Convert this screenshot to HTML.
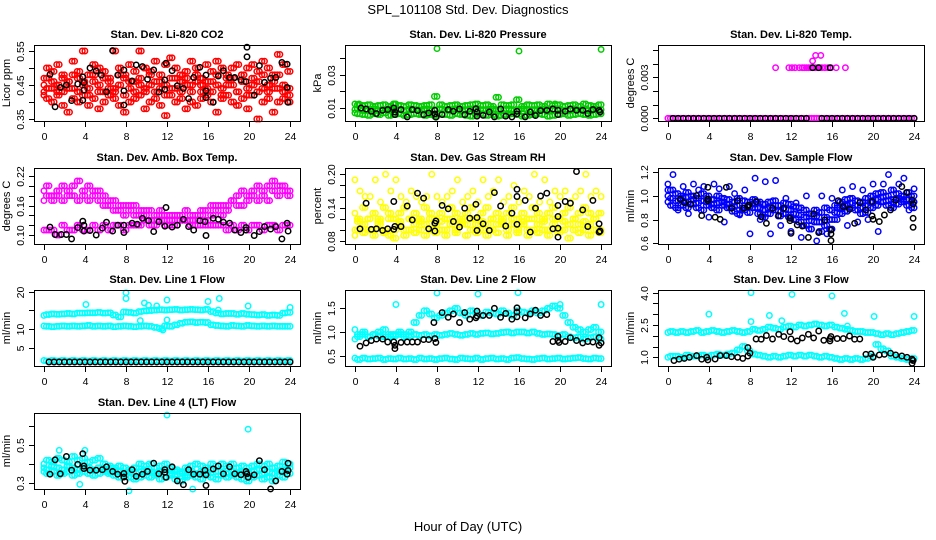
<!DOCTYPE html>
<html><head><meta charset="utf-8"><title>SPL_101108 Std. Dev. Diagnostics</title>
<style>
html,body{margin:0;padding:0;background:#fff;}
svg{display:block;font-family:"Liberation Sans",Arial,sans-serif;}
</style></head>
<body>
<svg id="chart" width="936" height="540" viewBox="0 0 936 540" xmlns="http://www.w3.org/2000/svg">
<rect width="936" height="540" fill="#fff"/>
<text x="468" y="14" text-anchor="middle" font-size="13">SPL_101108  Std. Dev. Diagnostics</text>
<text x="468" y="531" text-anchor="middle" font-size="13">Hour of Day (UTC)</text>
<g id="panels"></g>
</svg>
<script>
// ---------- shared hours ----------
const hours = [0,0.5,1,1.5,2,2.5,3,3.5,4,4.5,5,5.5,6,6.5,7,7.5,8,8.5,9,9.5,10,10.5,11,11.5,12,12.5,13,13.5,14,14.5,15,15.5,16,16.5,17,17.5,18,18.5,19,19.5,20,20.5,21,21.5,22,22.5,23,23.5,24];
const hoursQ = [0.25,0.75,1.25,1.75,2.25,2.75,3.25,3.75,4.25,4.75,5.25,5.75,6.25,6.75,7.25,7.75,8.25,8.75,9.25,9.75,10.25,10.75,11.25,11.75,12.25,12.75,13.25,13.75,14.25,14.75,15.25,15.75,16.25,16.75,17.25,17.75,18.25,18.75,19.25,19.75,20.25,20.75,21.25,21.75,22.25,22.75,23.25,23.75];
const xTicks = [0,4,8,12,16,20,24];

// ---------- Panel 1: CO2 ----------
const co2A = [0.47,0.50,0.49,0.51,0.48,0.46,0.52,0.49,0.55,0.48,0.51,0.50,0.49,0.47,0.55,0.50,0.48,0.51,0.49,0.55,0.50,0.49,0.52,0.48,0.51,0.53,0.50,0.48,0.49,0.52,0.50,0.47,0.51,0.49,0.52,0.50,0.48,0.50,0.51,0.48,0.50,0.51,0.49,0.52,0.50,0.48,0.54,0.51,0.49];
const co2B = [0.43,0.41,0.40,0.42,0.39,0.37,0.41,0.40,0.42,0.39,0.41,0.38,0.40,0.42,0.41,0.39,0.37,0.40,0.41,0.42,0.38,0.40,0.41,0.39,0.36,0.42,0.40,0.41,0.38,0.40,0.39,0.41,0.42,0.40,0.37,0.41,0.42,0.40,0.39,0.41,0.38,0.42,0.35,0.40,0.41,0.37,0.40,0.41,0.40];
const co2C = [0.45,0.44,0.46,0.45,0.43,0.46,0.44,0.47,0.45,0.44,0.46,0.45,0.43,0.46,0.44,0.45,0.47,0.44,0.46,0.45,0.43,0.45,0.46,0.44,0.45,0.47,0.44,0.46,0.45,0.43,0.46,0.45,0.44,0.46,0.45,0.44,0.47,0.45,0.43,0.46,0.44,0.45,0.46,0.44,0.45,0.46,0.44,0.45,0.44];
const co2D = [0.42,0.47,0.44,0.43,0.47,0.44,0.48,0.43,0.46,0.42,0.48,0.43,0.47,0.44,0.43,0.48,0.42,0.46,0.43,0.47,0.44,0.48,0.43,0.46,0.42,0.44,0.47,0.43,0.47,0.45,0.48,0.43,0.46,0.43,0.48,0.42,0.45,0.47,0.43,0.48,0.42,0.47,0.43,0.48,0.43,0.44,0.48,0.43,0.42];
const co2BlackX = [0.6,1.1,1.6,2.2,2.7,3.3,3.8,3.9,3.8,3.9,4.5,5.1,5.6,6.1,6.7,7.2,7.8,7.8,7.8,8.6,9.0,9.6,10.1,10.7,11.2,11.8,11.8,11.9,12.5,13.0,13.6,14.1,14.6,15.2,15.8,15.8,15.8,16.5,17.0,17.5,18.1,18.6,19.2,19.7,19.8,19.8,20.5,21.0,21.5,22.1,22.6,23.2,23.7,23.7,23.8];
const co2BlackY = [0.481,0.386,0.443,0.45,0.404,0.453,0.474,0.457,0.405,0.435,0.50,0.491,0.479,0.43,0.551,0.479,0.494,0.433,0.391,0.462,0.509,0.504,0.467,0.494,0.429,0.465,0.437,0.514,0.492,0.448,0.44,0.41,0.472,0.502,0.479,0.433,0.413,0.399,0.476,0.492,0.472,0.472,0.465,0.46,0.533,0.561,0.42,0.507,0.458,0.47,0.472,0.516,0.511,0.443,0.399];

// ---------- Panel 2: Pressure ----------
const presA = [0.0125,0.012,0.0115,0.012,0.011,0.0115,0.012,0.011,0.0125,0.0115,0.011,0.012,0.0115,0.011,0.0115,0.012,0.017,0.012,0.011,0.0115,0.012,0.011,0.0115,0.012,0.0125,0.0115,0.012,0.011,0.0165,0.012,0.0115,0.012,0.015,0.011,0.012,0.0115,0.012,0.011,0.0125,0.0115,0.012,0.011,0.0115,0.012,0.011,0.0125,0.0115,0.011,0.012];
const presB = [0.007,0.0065,0.006,0.0055,0.0065,0.006,0.007,0.0055,0.006,0.0065,0.0055,0.006,0.0065,0.006,0.0055,0.006,0.005,0.0065,0.006,0.0055,0.0065,0.006,0.0055,0.005,0.006,0.0065,0.0055,0.006,0.005,0.0055,0.006,0.0065,0.006,0.005,0.0055,0.006,0.0065,0.006,0.005,0.0055,0.006,0.0065,0.0055,0.006,0.0065,0.006,0.0055,0.006,0.0065];
const presC = [0.009,0.0095,0.0085,0.009,0.0095,0.0085,0.009,0.0095,0.0088,0.009,0.0085,0.0095,0.009,0.0088,0.0095,0.0085,0.009,0.0095,0.0088,0.009,0.0095,0.0085,0.009,0.0095,0.0088,0.009,0.0085,0.0095,0.009,0.0088,0.0095,0.0085,0.009,0.0095,0.0088,0.009,0.0085,0.0095,0.009,0.0088,0.0095,0.0085,0.009,0.0095,0.0088,0.009,0.0085,0.0095,0.009];
const presOutX = [8,16,24,0.4,3.9,19.5];
const presOutY = [0.046,0.0445,0.0455,0.0125,0.0125,0.0125];
const presBlackX = [0.6,1.1,1.6,2.1,2.7,3.2,3.8,3.9,3.9,4.5,5.1,5.6,6.1,6.7,7.2,7.8,7.8,7.9,8.5,9.1,9.6,10.2,10.7,11.2,11.8,11.9,11.9,12.5,13.1,13.6,14.2,14.7,15.3,15.8,15.8,16.6,17.1,17.6,18.1,18.7,19.3,19.8,19.8,20.5,21.0,21.6,22.2,22.7,23.2,23.8,23.9];
const presBlackY = [0.010,0.0094,0.008,0.0066,0.0086,0.009,0.010,0.006,0.0076,0.009,0.0046,0.009,0.0084,0.006,0.007,0.0086,0.0064,0.0044,0.006,0.009,0.008,0.0094,0.006,0.008,0.0096,0.0076,0.005,0.0056,0.0076,0.0046,0.0094,0.005,0.0046,0.0064,0.008,0.0046,0.0076,0.0054,0.0084,0.0086,0.0094,0.0086,0.006,0.008,0.0094,0.0086,0.0086,0.0066,0.009,0.0086,0.0076];

// ---------- Panel 3: Li-820 Temp ----------
const tempZero = [0,0,0,0,0,0,0,0,0,0,0,0,0,0,0,0,0,0,0,0,0,0,0,0,0,0,0,0,0,0,0,0,0,0,0,0,0,0,0,0,0,0,0,0,0,0,0,0,0];
const tempHiX = [10.5,11.8,12.1,12.4,12.8,13.1,13.3,13.5,13.7,13.9,14.2,14.4,14.6,14.8,15.0,15.3,15.6,15.9,16.4,17.3,14.1,14.4,14.9];
const tempHiY = [0.0037,0.0037,0.0037,0.0037,0.0037,0.0037,0.0037,0.0037,0.0037,0.0037,0.0037,0.0037,0.0037,0.0037,0.0037,0.0037,0.0037,0.0037,0.0037,0.0037,0.0042,0.0046,0.0046];
const tempBlackX = [0.5,1,1.5,2,2.5,3,3.5,4,4.5,5,5.5,6,6.5,7,7.5,8,8.5,9,9.5,10,10.5,11,11.5,12,12.5,13,13.5,15,15.5,16,16.5,17,17.5,18,18.5,19,19.5,20,20.5,21,21.5,22,22.5,23,23.5,24,14.1,14.7,15.8];
const tempBlackY = [0,0,0,0,0,0,0,0,0,0,0,0,0,0,0,0,0,0,0,0,0,0,0,0,0,0,0,0,0,0,0,0,0,0,0,0,0,0,0,0,0,0,0,0,0,0,0.0037,0.0037,0.0037];

// ---------- Panel 4: Amb Box Temp ----------
const ambA = [0.19,0.20,0.18,0.19,0.20,0.19,0.18,0.21,0.19,0.20,0.18,0.19,0.18,0.17,0.17,0.16,0.16,0.15,0.16,0.15,0.14,0.15,0.14,0.14,0.13,0.14,0.13,0.14,0.13,0.14,0.14,0.15,0.15,0.16,0.15,0.16,0.16,0.17,0.18,0.19,0.18,0.19,0.20,0.19,0.20,0.21,0.20,0.19,0.19];
const ambB = [0.17,0.18,0.17,0.18,0.17,0.18,0.20,0.17,0.18,0.17,0.19,0.17,0.16,0.16,0.15,0.15,0.14,0.16,0.14,0.14,0.15,0.13,0.13,0.15,0.14,0.12,0.14,0.13,0.15,0.13,0.12,0.14,0.13,0.14,0.16,0.14,0.15,0.17,0.16,0.16,0.17,0.18,0.17,0.18,0.17,0.19,0.18,0.20,0.18];
const ambC = [0.11,0.11,0.11,0.10,0.12,0.11,0.11,0.12,0.11,0.11,0.12,0.11,0.12,0.11,0.12,0.12,0.11,0.12,0.12,0.12,0.13,0.12,0.12,0.13,0.12,0.13,0.12,0.13,0.13,0.12,0.13,0.12,0.12,0.12,0.12,0.12,0.11,0.12,0.11,0.12,0.11,0.12,0.12,0.11,0.12,0.12,0.11,0.12,0.12];
const ambBlackX = [0.6,1.1,1.7,2.2,2.7,3.3,3.8,3.9,3.9,4.5,5.1,5.7,6.1,6.7,7.2,7.8,7.8,8.6,9.1,9.6,10.2,10.7,11.2,11.8,11.9,12.5,13.0,13.6,14.1,14.6,15.2,15.7,15.8,16.5,17.0,17.5,18.1,18.6,19.2,19.7,19.7,20.5,21.0,21.5,22.1,22.6,23.2,23.7,23.8];
const ambBlackY = [0.116,0.101,0.101,0.101,0.092,0.115,0.128,0.12,0.108,0.109,0.10,0.114,0.126,0.108,0.12,0.12,0.105,0.124,0.122,0.134,0.129,0.107,0.127,0.118,0.156,0.116,0.12,0.132,0.117,0.11,0.129,0.127,0.099,0.134,0.132,0.126,0.124,0.11,0.105,0.11,0.115,0.099,0.107,0.117,0.112,0.117,0.092,0.124,0.108];

// ---------- Panel 5: Gas Stream RH ----------
const rhA = [0.10,0.10,0.11,0.10,0.10,0.11,0.10,0.09,0.10,0.11,0.10,0.10,0.11,0.10,0.11,0.10,0.11,0.10,0.10,0.11,0.10,0.11,0.11,0.10,0.11,0.10,0.11,0.10,0.11,0.11,0.10,0.11,0.10,0.11,0.10,0.10,0.11,0.10,0.10,0.11,0.10,0.10,0.11,0.10,0.11,0.10,0.11,0.10,0.10];
const rhB = [0.13,0.12,0.14,0.12,0.13,0.12,0.14,0.13,0.12,0.13,0.14,0.12,0.13,0.12,0.14,0.13,0.12,0.13,0.12,0.14,0.13,0.12,0.13,0.14,0.12,0.13,0.14,0.12,0.13,0.12,0.13,0.14,0.12,0.13,0.12,0.14,0.13,0.12,0.13,0.14,0.12,0.13,0.14,0.12,0.13,0.14,0.13,0.12,0.13];
const rhC = [0.19,0.17,0.16,0.16,0.19,0.15,0.20,0.17,0.19,0.16,0.15,0.17,0.16,0.15,0.16,0.20,0.16,0.15,0.16,0.17,0.19,0.15,0.16,0.17,0.15,0.19,0.16,0.17,0.19,0.15,0.16,0.18,0.15,0.17,0.16,0.20,0.15,0.19,0.15,0.17,0.16,0.17,0.15,0.16,0.17,0.20,0.16,0.17,0.16];
const rhD = [0.09,0.115,0.095,0.12,0.09,0.115,0.095,0.12,0.085,0.115,0.09,0.12,0.095,0.115,0.09,0.12,0.095,0.115,0.09,0.12,0.095,0.115,0.09,0.12,0.095,0.115,0.09,0.12,0.095,0.115,0.09,0.12,0.095,0.115,0.09,0.12,0.095,0.115,0.09,0.12,0.095,0.115,0.085,0.12,0.095,0.115,0.09,0.12,0.095];
const rhBlackX = [0.5,1.1,1.6,2.1,2.7,3.2,3.8,3.8,3.9,4.5,5.1,5.6,6.1,6.7,7.2,7.8,7.8,7.9,8.5,9.1,9.6,10.2,10.7,11.2,11.8,11.9,11.9,12.5,13.1,13.6,14.2,14.7,15.3,15.8,15.8,15.8,16.6,17.1,17.6,18.1,18.7,19.3,19.8,19.8,19.8,19.8,20.5,21.0,21.6,22.2,22.7,23.2,23.8,23.8,23.9];
const rhBlackY = [0.102,0.148,0.101,0.102,0.099,0.102,0.151,0.101,0.106,0.106,0.143,0.118,0.166,0.157,0.102,0.112,0.098,0.116,0.144,0.138,0.115,0.105,0.139,0.121,0.146,0.099,0.122,0.111,0.099,0.167,0.143,0.107,0.13,0.173,0.16,0.11,0.153,0.096,0.139,0.161,0.166,0.102,0.144,0.124,0.103,0.087,0.151,0.148,0.205,0.136,0.106,0.153,0.111,0.096,0.098];

// ---------- Panel 6: Sample Flow ----------
const sfA = [1.05,1.05,1.02,1.00,1.03,1.00,0.98,1.02,1.00,0.97,1.00,0.98,0.97,0.95,0.98,0.96,0.95,0.97,0.95,0.93,0.95,0.96,0.92,0.94,0.93,0.91,0.90,0.88,0.85,0.88,0.86,0.90,0.88,0.92,0.95,0.97,0.98,0.96,0.95,0.98,1.00,1.02,1.03,1.00,1.05,1.02,1.00,1.03,1.00];
const sfB = [0.95,0.92,0.90,0.92,0.90,0.93,0.90,0.88,0.92,0.90,0.88,0.92,0.90,0.87,0.85,0.88,0.86,0.90,0.85,0.82,0.85,0.88,0.83,0.85,0.82,0.80,0.78,0.75,0.72,0.78,0.70,0.75,0.72,0.80,0.85,0.87,0.90,0.88,0.85,0.86,0.90,0.92,0.95,0.92,0.90,0.93,0.95,0.92,0.90];
const sfC = [1.10,1.18,0.88,1.08,0.85,1.10,1.05,1.08,0.82,1.10,1.06,0.78,1.08,1.02,0.84,1.05,0.68,1.15,0.80,1.12,0.68,1.13,0.75,0.98,0.70,0.94,0.65,1.00,0.72,0.62,1.00,0.68,0.98,0.90,1.05,0.75,1.08,0.78,1.05,0.80,1.10,0.70,1.10,1.18,0.95,1.10,1.15,0.88,1.06];
const sfD = [1.00,0.98,0.96,0.98,0.95,0.97,0.94,0.96,0.95,0.93,0.94,0.95,0.93,0.91,0.92,0.90,0.91,0.93,0.90,0.88,0.90,0.92,0.87,0.89,0.88,0.85,0.84,0.82,0.79,0.83,0.78,0.82,0.80,0.86,0.90,0.92,0.94,0.92,0.90,0.92,0.95,0.97,0.99,0.96,0.97,0.98,0.97,0.97,0.95];
const sfBlackX = [1.2,1.6,2.2,2.8,3.3,3.9,3.9,3.9,4.6,5.1,5.7,6.2,6.8,7.4,7.8,7.9,8.6,9.1,9.6,10.2,10.8,11.3,11.9,11.9,12.0,12.6,13.1,13.7,14.2,14.7,15.3,15.9,15.9,15.9,16.6,17.1,17.7,18.2,18.7,19.3,19.9,19.9,20.0,20.6,21.1,21.7,22.2,22.8,23.3,23.8,23.9,23.9,23.9];
const sfBlackY = [0.972,0.944,0.93,1.003,0.834,0.975,1.073,0.96,0.82,0.803,1.073,0.896,0.96,0.896,0.91,0.924,0.952,0.825,0.769,0.896,0.834,0.896,0.811,0.791,0.684,0.755,0.746,0.65,0.848,0.69,0.797,0.679,0.713,0.623,0.96,0.91,0.887,0.769,0.944,0.882,0.952,0.831,0.803,0.783,0.839,0.882,0.966,1.079,1.028,0.966,0.932,0.811,0.735];

// ---------- Panel 7: Line 1 Flow ----------
const l1Upper = [13.7,13.9,14.1,14.0,14.1,14.2,14.1,14.3,14.3,14.4,14.4,14.5,14.3,14.4,13.8,13.3,14.6,14.5,14.3,14.7,14.9,15.0,15.1,15.2,15.1,15.2,15.3,15.1,15.2,15.3,15.2,15.1,15.3,14.7,14.3,14.1,14.2,14.2,14.0,14.2,14.0,13.9,13.8,13.9,13.7,13.8,13.7,14.3,14.5];
const l1Mid = [10.9,10.8,10.7,10.8,10.9,10.8,10.9,10.8,10.9,11.0,10.8,10.9,10.8,10.9,10.7,10.8,10.9,10.8,10.7,10.8,10.9,10.8,10.5,10.2,10.9,10.8,11.2,11.6,11.9,12.0,11.8,11.9,11.8,11.2,11.0,10.9,10.8,11.0,10.9,10.8,11.0,10.9,10.8,10.9,10.8,10.9,10.8,10.8,10.8];
const l1Low = [1.7,1.6,1.7,1.6,1.7,1.6,1.7,1.6,1.7,1.6,1.7,1.6,1.7,1.6,1.7,1.6,1.7,1.6,1.7,1.6,1.7,1.6,1.7,1.6,1.7,1.6,1.7,1.6,1.7,1.6,1.7,1.6,1.7,1.6,1.7,1.6,1.7,1.6,1.7,1.6,1.7,1.6,1.7,1.6,1.7,1.6,1.7,1.6,1.7];
const l1OutX = [4.1,8.0,8.0,9.8,10.2,11.0,12.0,12.0,16.0,17.1,17.0,19.9,24,9.4,11.6];
const l1OutY = [16.6,18.2,19.7,17.0,16.4,16.2,17.8,12.5,17.4,18.2,15.1,16.2,15.8,12.3,9.8];
const l1Black = [null,1.3,1.3,1.3,1.3,1.3,1.3,1.3,1.3,1.3,1.3,1.3,1.3,1.3,1.3,1.3,1.3,1.3,1.3,1.3,1.3,1.3,1.3,1.3,1.3,1.3,1.3,1.3,1.3,1.3,1.3,1.3,1.3,1.3,1.3,1.3,1.3,1.3,1.3,1.3,1.3,1.3,1.3,1.3,1.3,1.3,1.3,1.3,1.3];

// ---------- Panel 8: Line 2 Flow ----------
const l2Upper = [1.05,0.95,1.0,0.9,0.95,1.0,1.05,0.9,0.95,1.0,0.95,1.0,1.2,1.35,1.45,1.38,1.3,1.35,1.4,1.45,1.5,1.4,1.35,1.45,1.4,1.35,1.42,1.4,1.38,1.45,1.4,1.35,1.45,1.42,1.4,1.45,1.4,1.45,1.5,1.55,1.5,1.35,1.2,1.1,1.05,1.0,1.05,1.1,1.0];
const l2Mid = [0.85,0.9,0.95,0.9,0.95,0.92,0.9,0.95,0.92,0.95,0.9,0.92,0.95,0.93,0.95,0.92,0.95,0.93,0.95,0.97,0.95,0.93,0.95,0.97,0.95,0.97,0.98,0.96,0.97,0.99,1.0,0.98,1.0,1.0,0.98,1.0,0.97,0.95,0.96,0.95,0.93,0.95,0.9,0.88,0.9,0.85,0.88,0.9,0.85];
const l2Low = [0.45,0.42,0.45,0.43,0.44,0.45,0.42,0.44,0.43,0.45,0.43,0.44,0.42,0.45,0.43,0.44,0.42,0.44,0.45,0.43,0.42,0.45,0.44,0.43,0.45,0.42,0.44,0.45,0.43,0.44,0.42,0.45,0.46,0.44,0.43,0.42,0.44,0.45,0.43,0.44,0.45,0.43,0.44,0.45,0.46,0.44,0.43,0.45,0.44];
const l2OutX = [4.0,8.0,12.0,15.9,20.0,24];
const l2OutY = [1.58,1.82,1.80,1.83,1.58,1.58];
const l2BlackX = [0.5,1.1,1.6,2.1,2.7,3.2,3.8,3.9,3.9,4.5,5.1,5.6,6.1,6.7,7.2,7.7,7.8,7.9,8.5,9.1,9.6,10.2,10.7,11.2,11.8,11.9,11.9,12.5,13.1,13.6,14.2,14.7,15.3,15.8,15.8,15.8,16.6,17.1,17.6,18.1,18.7,19.3,19.8,19.8,19.9,20.5,21.0,21.6,22.2,22.7,23.2,23.8,23.8,24.0];
const l2BlackY = [0.70,0.77,0.82,0.85,0.85,0.79,0.79,0.65,0.72,0.78,0.79,0.79,0.79,0.84,0.84,1.20,0.86,0.78,1.41,1.31,1.38,1.20,1.41,1.27,1.30,1.44,1.34,1.35,1.35,1.50,1.31,1.39,1.27,1.51,1.42,1.32,1.30,1.38,1.46,1.35,1.37,0.80,0.91,0.82,0.78,0.80,0.88,0.82,0.77,0.80,0.79,0.88,0.72,0.77];

// ---------- Panel 9: Line 3 Flow ----------
const l3Upper = [2.15,2.2,2.15,2.2,2.15,2.2,2.25,2.15,2.2,2.25,2.2,2.15,2.2,2.25,2.2,2.15,2.2,2.3,2.25,2.3,2.4,2.35,2.3,2.4,2.45,2.4,2.5,2.45,2.5,2.55,2.5,2.45,2.5,2.4,2.35,2.3,2.25,2.2,2.2,2.15,2.15,2.1,2.05,2.1,2.05,2.1,2.15,2.2,2.25];
const l3Low = [1.0,1.05,1.05,1.0,1.1,1.05,1.05,1.1,1.05,1.1,1.15,1.1,1.15,1.2,1.35,1.5,1.3,1.15,1.1,1.05,1.0,1.05,1.0,1.05,1.1,1.05,1.1,1.05,1.1,1.05,1.0,1.05,1.0,0.95,0.9,0.95,0.9,0.95,0.9,0.95,1.05,1.6,1.4,1.3,1.05,1.0,0.95,0.9,0.95];
const l3OutX = [4.0,8.1,8.1,12.1,9.9,11.1,16.0,17.2,17.5,20.1,24];
const l3OutY = [3.0,4.0,2.66,3.92,2.94,2.70,3.85,3.04,2.45,2.9,2.9];
const l3BlackX = [0.6,1.1,1.6,2.1,2.8,3.3,3.8,3.9,4.6,5.1,5.7,6.2,6.8,7.3,7.8,7.8,8.0,8.6,9.1,9.6,10.2,10.8,11.3,11.9,12.0,12.6,13.1,13.7,14.2,14.7,15.2,15.8,15.8,15.9,16.5,17.1,17.7,18.2,18.7,19.3,19.8,20.0,20.6,21.1,21.7,22.2,22.8,23.3,23.8,23.9,23.8];
const l3BlackY = [0.85,0.91,0.95,1.0,1.08,0.91,1.0,0.88,0.92,1.08,1.08,1.03,1.0,0.95,1.06,1.45,1.19,1.85,1.84,2.01,1.85,2.07,1.96,2.19,1.85,1.76,1.9,2.07,1.9,2.22,1.79,1.87,1.76,1.96,1.87,1.87,1.99,1.84,1.85,1.14,1.16,1.0,1.11,1.14,1.19,1.11,1.06,1.0,0.91,0.85,0.72];

// ---------- Panel 10: Line 4 (LT) Flow ----------
const l4A = [0.40,0.42,0.41,0.43,0.42,0.41,0.44,0.42,0.43,0.41,0.42,0.43,0.40,0.39,0.38,0.39,0.38,0.37,0.38,0.40,0.39,0.40,0.38,0.39,0.40,0.38,0.37,0.36,0.38,0.39,0.40,0.39,0.38,0.40,0.39,0.40,0.39,0.40,0.38,0.39,0.38,0.39,0.40,0.39,0.40,0.38,0.39,0.41,0.40];
const l4B = [0.36,0.35,0.36,0.34,0.35,0.36,0.34,0.35,0.36,0.35,0.34,0.35,0.36,0.35,0.34,0.33,0.34,0.33,0.32,0.33,0.34,0.33,0.34,0.32,0.33,0.34,0.32,0.31,0.33,0.34,0.33,0.32,0.34,0.33,0.32,0.34,0.33,0.34,0.33,0.32,0.31,0.33,0.34,0.32,0.33,0.31,0.34,0.33,0.35];
const l4C = [0.38,0.37,0.39,0.38,0.37,0.39,0.38,0.37,0.39,0.38,0.37,0.38,0.37,0.36,0.37,0.36,0.35,0.36,0.35,0.36,0.37,0.36,0.35,0.36,0.37,0.35,0.36,0.35,0.34,0.36,0.35,0.36,0.35,0.37,0.36,0.36,0.35,0.36,0.35,0.36,0.35,0.36,0.37,0.35,0.36,0.35,0.36,0.37,0.38];
const l4OutX = [12.0,19.9,1.5,4.0,3.5,8.3,14.5];
const l4OutY = [0.657,0.583,0.472,0.472,0.293,0.259,0.268];
const l4BlackX = [0.6,1.1,1.6,2.2,2.7,3.3,3.8,3.9,3.9,4.5,5.1,5.7,6.1,6.7,7.2,7.8,7.8,7.9,8.6,9.0,9.6,10.1,10.7,11.2,11.8,11.8,11.9,12.5,13.0,13.6,14.1,14.6,15.2,15.7,15.8,15.8,16.5,17.0,17.5,18.1,18.6,19.2,19.7,19.8,19.9,20.5,21.0,21.5,22.1,22.6,23.2,23.7,23.8,23.8];
const l4BlackY = [0.346,0.422,0.348,0.439,0.367,0.398,0.454,0.389,0.376,0.367,0.367,0.37,0.385,0.361,0.346,0.35,0.331,0.309,0.37,0.335,0.346,0.361,0.404,0.348,0.37,0.356,0.33,0.385,0.311,0.291,0.37,0.346,0.346,0.367,0.343,0.287,0.374,0.389,0.348,0.385,0.348,0.343,0.361,0.348,0.33,0.343,0.417,0.37,0.269,0.311,0.361,0.346,0.365,0.404];

// ---------- drawing ----------
const NS = 'http://www.w3.org/2000/svg';
const root = document.getElementById('panels');
const colLeft = [34, 345, 658];
const rowTop = [45, 168, 290, 413];
const PW = 266, PH = 76;

function mk(tag, attrs, parent){
  const e = document.createElementNS(NS, tag);
  for (const k in attrs) e.setAttribute(k, attrs[k]);
  parent.appendChild(e);
  return e;
}

// series entries: [xArray, yArray, colour, dense?]  dense series are also drawn at the quarter-hour offsets
const panels = [
  {key:'co2', title:'Stan. Dev. Li-820 CO2', ylab:'Licor ppm', col:0, row:0, ymin:0.3441, ymax:0.5676,
   yt:[0.35,0.40,0.45,0.50,0.55], yl:['0.35','','0.45','','0.55'],
   series:[[hours,co2B,'#ff0000',1],[hours,co2D,'#ff0000',1],[hours,co2C,'#ff0000',1],[hours,co2A,'#ff0000',1],[co2BlackX,co2BlackY,'#000']]},
  {key:'pressure', title:'Stan. Dev. Li-820 Pressure', ylab:'kPa', col:1, row:0, ymin:0.00212, ymax:0.04818,
   yt:[0.01,0.02,0.03,0.04], yl:['0.01','','0.03',''],
   series:[[hours,presB,'#00cc00',1],[hours,presC,'#00cc00',1],[hours,presA,'#00cc00',1],[presOutX,presOutY,'#00cc00'],[presBlackX,presBlackY,'#000']]},
  {key:'li820-temp', title:'Stan. Dev. Li-820 Temp.', ylab:'degrees C', col:2, row:0, ymin:-0.000198, ymax:0.005363,
   yt:[0,0.001,0.002,0.003,0.004,0.005], yl:['0.000','','','0.003','',''],
   series:[[hours,tempZero,'#ff00ff',1],[tempHiX,tempHiY,'#ff00ff'],[tempBlackX,tempBlackY,'#000']]},
  {key:'amb-temp', title:'Stan. Dev. Amb. Box Temp.', ylab:'degrees C', col:0, row:1, ymin:0.0817, ymax:0.2363,
   yt:[0.10,0.12,0.14,0.16,0.18,0.20,0.22], yl:['0.10','','','0.16','','','0.22'],
   series:[[hours,ambA,'#ff00ff',1],[hours,ambB,'#ff00ff',1],[hours,ambC,'#ff00ff',1],[ambBlackX,ambBlackY,'#000']]},
  {key:'rh', title:'Stan. Dev. Gas Stream RH', ylab:'percent', col:1, row:1, ymin:0.0746, ymax:0.2113,
   yt:[0.08,0.10,0.12,0.14,0.16,0.18,0.20], yl:['0.08','','','0.14','','','0.20'],
   series:[[hours,rhA,'#ffff00',1],[hours,rhD,'#ffff00',1],[hours,rhB,'#ffff00',1],[hours,rhC,'#ffff00'],[rhBlackX,rhBlackY,'#000']]},
  {key:'sample-flow', title:'Stan. Dev. Sample Flow', ylab:'ml/min', col:2, row:1, ymin:0.594, ymax:1.236,
   yt:[0.6,0.8,1.0,1.2], yl:['0.6','0.8','1.0','1.2'],
   series:[[hours,sfA,'#0000ff',1],[hours,sfD,'#0000ff',1],[hours,sfB,'#0000ff',1],[hours,sfC,'#0000ff'],[sfBlackX,sfBlackY,'#000']]},
  {key:'line1', title:'Stan. Dev. Line 1 Flow', ylab:'ml/min', col:0, row:2, ymin:0.24, ymax:20.45,
   yt:[5,10,15,20], yl:['5','10','','20'],
   series:[[hours,l1Upper,'#00ffff',1],[hours,l1Mid,'#00ffff',1],[hours,l1Low,'#00ffff',1],[l1OutX,l1OutY,'#00ffff'],[hours,l1Black,'#000']]},
  {key:'line2', title:'Stan. Dev. Line 2 Flow', ylab:'ml/min', col:1, row:2, ymin:0.283, ymax:1.886,
   yt:[0.5,1.0,1.5], yl:['0.5','1.0','1.5'],
   series:[[hours,l2Low,'#00ffff',1],[hours,l2Mid,'#00ffff',1],[hours,l2Upper,'#00ffff',1],[l2OutX,l2OutY,'#00ffff'],[l2BlackX,l2BlackY,'#000']]},
  {key:'line3', title:'Stan. Dev. Line 3 Flow', ylab:'ml/min', col:2, row:2, ymin:0.596, ymax:4.125,
   yt:[1.0,1.5,2.0,2.5,3.0,3.5,4.0], yl:['1.0','','','2.5','','','4.0'],
   series:[[hours,l3Low,'#00ffff',1],[hours,l3Upper,'#00ffff',1],[l3OutX,l3OutY,'#00ffff'],[l3BlackX,l3BlackY,'#000']]},
  {key:'line4', title:'Stan. Dev. Line 4 (LT) Flow', ylab:'ml/min', col:0, row:3, ymin:0.2683, ymax:0.668,
   yt:[0.3,0.4,0.5,0.6], yl:['0.3','','0.5',''],
   series:[[hours,l4B,'#00ffff',1],[hours,l4C,'#00ffff',1],[hours,l4A,'#00ffff',1],[l4OutX,l4OutY,'#00ffff'],[l4BlackX,l4BlackY,'#000']]}
];

panels.forEach(p => {
  const L = colLeft[p.col], T = rowTop[p.row];
  const xs = h => L + (h + 0.96) / 25.92 * PW;
  const ys = v => T + PH - (v - p.ymin) / (p.ymax - p.ymin) * PH;
  const g = mk('g', {}, root);
  
  

  const t = mk('text', {x: L + PW/2, y: T - 7, 'text-anchor':'middle', 'font-size':'11', 'font-weight':'bold'}, g);
  t.textContent = p.title;
  
  

  const yl = mk('text', {x: L - 27, y: T + PH/2, 'text-anchor':'middle', 'font-size':'11', transform:'rotate(-90 ' + (L-27) + ' ' + (T+PH/2) + ')', 'dominant-baseline':'middle'}, g);
  yl.textContent = p.ylab;
  
  

  const pg = mk('g', {fill:'none', 'stroke-width':'1.5'}, g);
  
  
  function dot(x, y, col){
    const c = mk('circle', {cx: xs(x).toFixed(1), cy: ys(y).toFixed(1), r: '2.7', stroke: col}, pg);
    
    
  }
  p.series.forEach(s => {
    const [X, Y, col, dense] = s;
    const n = Math.min(X.length, Y.length);
    for (let i = 0; i < n; i++) {
      if (Y[i] === null || Y[i] === undefined) continue;
      dot(X[i], Y[i], col);
    }
    if (dense) {
      // quarter-hour companions: value from the next half-hour sample in the same series
      for (let i = 0; i < hoursQ.length; i++) {
        const v = Y[(i + 1) % Y.length];
        if (v === null || v === undefined) continue;
        dot(hoursQ[i], v, col);
      }
    }
  });

  const box = mk('rect', {x: L + 0.5, y: T + 0.5, width: PW, height: PH, fill:'none', stroke:'#000', 'stroke-width':'1'}, g);
  
  

  const xa = mk('g', {}, g);
  
  
  xTicks.forEach(h => {
    const x = Math.round(xs(h)) + 0.5;
    mk('line', {x1:x, x2:x, y1:T+PH+0.5, y2:T+PH+6, stroke:'#000'}, xa);
    const tl = mk('text', {x:x, y:T+PH+19, 'text-anchor':'middle', 'font-size':'10.5'}, xa);
    tl.textContent = h;
    
    
  });

  const ya = mk('g', {}, g);
  
  
  p.yt.forEach((v, i) => {
    const y = Math.round(ys(v)) + 0.5;
    mk('line', {x1:L-5, x2:L+0.5, y1:y, y2:y, stroke:'#000'}, ya);
    if (p.yl[i]) {
      const lx = L - 13;
      const tl = mk('text', {x:lx, y:y, 'text-anchor':'middle', 'font-size':'10.5', 'dominant-baseline':'middle', transform:'rotate(-90 ' + lx + ' ' + y + ')'}, ya);
      tl.textContent = p.yl[i];
      
      
    }
  });
});
</script>
</body></html>
